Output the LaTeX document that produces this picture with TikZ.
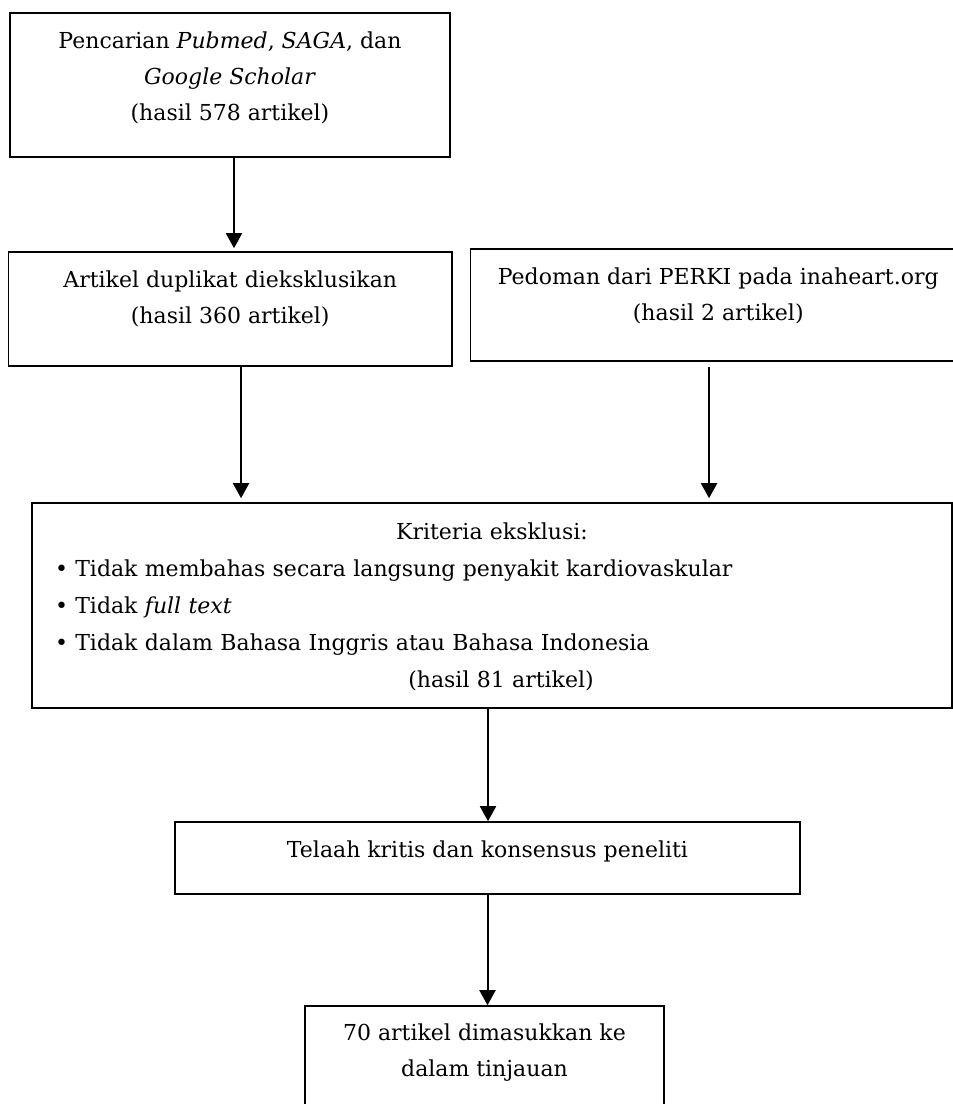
\documentclass[tikz,border=0pt]{standalone}
\usepackage{fontspec}
\setmainfont{DejaVu Serif}
\usetikzlibrary{positioning,arrows.meta}
\tikzset{
	kotak/.style={draw, line width=0.8pt, inner sep=0pt},
	teks/.style={inner sep=0pt, align=center, font=\fontsize{11}{18}\selectfont},
	panah/.style={line width=1pt, -{Triangle[length=7.5pt,width=8pt]}}
}

\begin{document}
\begin{tikzpicture}[x=0.5pt, y=-0.5pt]
		%%%%% START %%%%%
		\useasboundingbox (0, 0) rectangle (953, 1104);
		\clip (0, 0) rectangle (953, 1104);
		
		\node[kotak, minimum width=220pt, minimum height=72pt] (search) at (230, 85) {};
		\node[teks, below=9.5pt of search.north] (search-txt) {Pencarian \textit{Pubmed}, \textit{SAGA}, dan\\ \textit{Google Scholar}\\ (hasil 578 artikel)};
		
		\node[kotak, minimum width=221.75pt, minimum height=57pt] (dup) at (230.25, 309) {};
		\node[teks, below=9.5pt of dup.north] (dup-txt) {Artikel duplikat dieksklusikan\\ (hasil 360 artikel)};
		
		\node[kotak, minimum width=247.75pt, minimum height=56pt] (perki) at (718.25, 305) {};
		\node[teks, below=9.5pt of perki.north] (perki-txt) {Pedoman dari PERKI pada inaheart.org\\ (hasil 2 artikel)};
		
		\node[kotak, minimum width=460pt, minimum height=102.5pt] (kriteria) at (492, 605.5) {};
		\node[teks, align=left, text width=437pt, font=\fontsize{11}{18.5}\selectfont, below=10pt of kriteria.north] (kriteria-txt) {\makebox[437pt]{Kriteria eksklusi:}\\
			\textbullet~Tidak membahas secara langsung penyakit kardiovaskular\\
			\textbullet~Tidak \textit{full text}\\
			\textbullet~Tidak dalam Bahasa Inggris atau Bahasa Indonesia\\
			\makebox[437pt]{\hspace*{9pt}(hasil 81 artikel)}};
		
		\node[kotak, minimum width=312.5pt, minimum height=36pt] (telaah) at (487.5, 858) {};
		\node[teks, below=9.5pt of telaah.north] (telaah-txt) {Telaah kritis dan konsensus peneliti};
		
		\node[kotak, minimum width=179.5pt, minimum height=56pt] (hasil) at (484.5, 1062) {};
		\node[teks, below=9pt of hasil.north] (hasil-txt) {70 artikel dimasukkan ke\\ dalam tinjauan};
		
		\draw[panah, shorten >=1.5pt] ([xshift=2pt]search.south) -- ([xshift=2pt]search.south |- dup.north);
		\draw[panah, shorten >=2pt] ([xshift=5.4pt]dup.south) -- ([xshift=5.4pt]dup.south |- kriteria.north);
		\draw[panah, shorten <=2.5pt, shorten >=2pt] ([xshift=-4.6pt]perki.south) -- ([xshift=-4.6pt]perki.south |- kriteria.north);
		\draw[panah] ([xshift=-2pt]kriteria.south) -- ([xshift=-2pt]kriteria.south |- telaah.north);
		\draw[panah] (telaah.south) -- (telaah.south |- hasil.north);
		
		%%%%% END %%%%%
\end{tikzpicture}
\end{document}
